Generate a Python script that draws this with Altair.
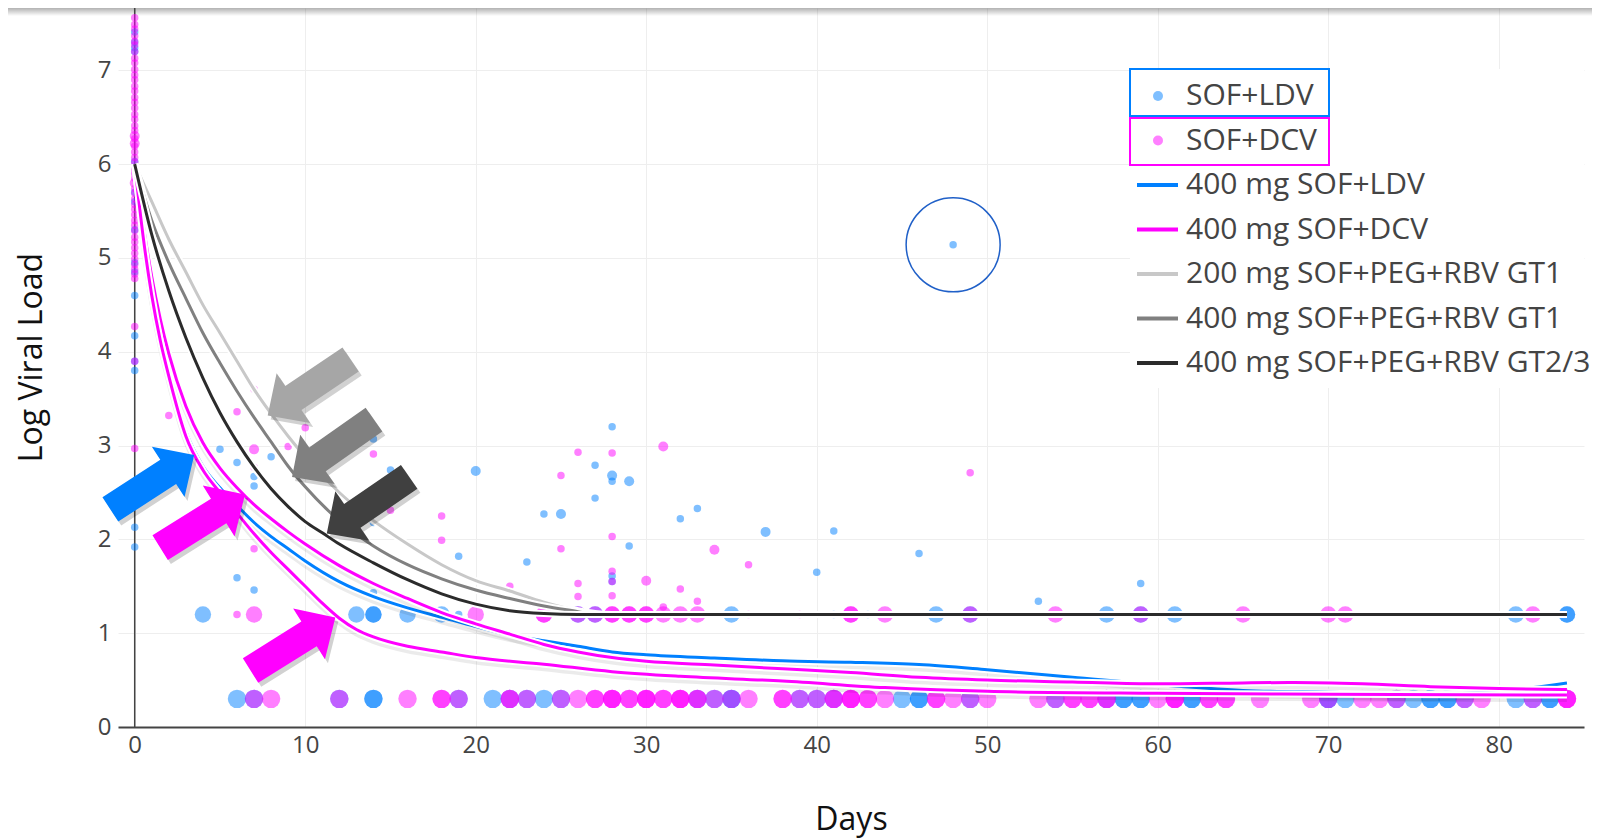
import altair as alt
import pandas as pd

LDV, DCV = "SOF+LDV", "SOF+DCV"

# ---------------- individual measurements ----------------
ldv_day0_vals = [7.41, 7.3, 7.24, 7.2, 6.03, 5.7, 5.6, 5.3, 4.95, 4.85, 4.6, 4.17, 3.9, 3.8, 2.13, 1.92]
dcv_day0_vals = [7.56, 7.49, 7.44, 7.37, 7.31, 7.27, 7.2, 7.13, 7.08, 7.01, 6.95, 6.9, 6.83, 6.78, 6.71,
                 6.66, 6.6, 6.53, 6.48, 6.41, 6.36, 6.27, 6.19, 6.13, 6.07, 6.02, 5.95, 5.9, 5.85, 5.74,
                 5.69, 5.63, 5.57, 5.52, 5.46, 5.4, 5.35, 5.29, 5.22, 5.17, 5.11, 5.05, 4.99, 4.93, 4.88,
                 4.83, 4.78, 4.27, 3.9, 2.97]

ldv_small_days = [5, 6, 7, 7, 8, 6, 7, 14, 15, 14, 14, 19, 23, 24, 27, 27, 28, 28, 29, 28, 28, 32, 33,
                  40, 41, 46, 48, 53, 59]
ldv_small_vals = [2.96, 2.82, 2.67, 2.57, 2.88, 1.59, 1.46, 3.07, 2.74, 2.18, 1.43, 1.82, 1.76, 2.27,
                  2.79, 2.44, 3.2, 2.62, 1.93, 1.61, 1.55, 2.22, 2.33, 1.65, 2.09, 1.85, 5.14, 1.34, 1.53]
ldv_medium_days = [20, 25, 28, 29, 37]
ldv_medium_vals = [2.73, 2.27, 2.68, 2.62, 2.08]

dcv_small_days = [2, 6, 7, 10, 9, 7, 14, 15, 7, 18, 18, 22, 25, 25, 26, 26, 26, 28, 28, 28, 28, 28,
                  31, 32, 33, 36, 49]
dcv_small_vals = [3.32, 3.36, 3.6, 3.19, 2.99, 2.77, 2.91, 2.31, 1.9, 2.25, 1.99, 1.5, 2.68, 1.9, 2.93,
                  1.53, 1.39, 2.92, 2.03, 1.66, 1.55, 1.4, 1.28, 1.47, 1.34, 1.73, 2.71]
dcv_medium_days = [0, 0, 0, 7, 30, 31, 34]
dcv_medium_vals = [6.3, 6.22, 5.8, 2.96, 1.56, 2.99, 1.89]

# censored measurements: below quantification limit / target not detected
lloq_value = 1.2
tnd_value = 0.3
ldv_lloq_days = [4, 13, 14, 14, 16, 18, 26, 27, 35, 47, 49, 57, 59, 61, 81, 84, 84]
ldv_lloq_small_days = [19, 41, 43]
dcv_lloq_days = [7, 20, 24, 24, 26, 27, 28, 28, 29, 29, 30, 30, 31, 32, 33, 42, 42, 44, 49, 54, 59,
                 65, 70, 71, 82]
dcv_lloq_small_days = [6, 36, 39]
ldv_tnd_days = [6, 7, 12, 14, 14, 19, 21, 22, 23, 24, 25, 33, 34, 35, 35, 39, 40, 41, 45, 46, 46, 49,
                54, 57, 58, 58, 59, 59, 62, 62, 70, 70, 71, 74, 75, 76, 76, 77, 77, 78, 81, 82, 83, 83]
dcv_tnd_days = [7, 8, 12, 16, 18, 18, 19, 22, 22, 23, 25, 26, 27, 27, 28, 28, 28, 29, 29, 30, 30, 30,
                31, 31, 32, 32, 32, 33, 33, 34, 35, 36, 38, 38, 39, 40, 41, 41, 42, 42, 42, 43, 43, 44,
                47, 47, 48, 49, 50, 53, 54, 55, 55, 56, 56, 57, 57, 60, 61, 61, 61, 63, 63, 64, 64, 66,
                69, 70, 72, 73, 74, 78, 79, 82, 84, 84, 84]

# ---------------- model curves ----------------
ldv_fit_days = [0, 0.5, 1, 1.5, 2, 3, 4, 5, 6, 7, 8, 9, 10, 12, 14, 16, 18, 20, 22, 24, 26, 28, 30,
                34, 38, 42, 46, 50, 55, 60, 65, 70, 76, 80, 84]
ldv_fit_vals = [6.0, 5.25, 4.62, 4.15, 3.78, 3.15, 2.78, 2.55, 2.36, 2.18, 2.03, 1.9, 1.77, 1.55, 1.39,
                1.27, 1.17, 1.07, 0.98, 0.92, 0.86, 0.8, 0.77, 0.735, 0.705, 0.69, 0.665, 0.61, 0.53,
                0.45, 0.39, 0.37, 0.35, 0.38, 0.47]
dcv_hi_days = [0, 0.5, 1, 1.5, 2, 3, 4, 5, 6, 7, 8, 9, 10, 12, 14, 16, 18, 20, 22, 24, 26, 28, 30,
               34, 38, 42, 46, 50, 55, 60, 65, 68, 72, 76, 80, 84]
dcv_hi_vals = [6.0, 5.35, 4.8, 4.35, 3.98, 3.42, 3.03, 2.76, 2.55, 2.37, 2.22, 2.08, 1.95, 1.72, 1.53,
               1.37, 1.22, 1.1, 0.99, 0.88, 0.8, 0.74, 0.7, 0.66, 0.62, 0.58, 0.53, 0.5, 0.48, 0.46,
               0.47, 0.475, 0.46, 0.43, 0.41, 0.4]
dcv_lo_days = [0, 0.5, 1, 1.5, 2, 3, 4, 5, 6, 7, 8, 9, 10, 11, 12, 13, 14, 16, 18, 20, 24, 28, 32,
               38, 44, 50, 60, 70, 84]
dcv_lo_vals = [6.0, 5.22, 4.6, 4.12, 3.74, 3.1, 2.74, 2.5, 2.28, 2.06, 1.86, 1.68, 1.5, 1.32, 1.16,
               1.04, 0.96, 0.86, 0.8, 0.74, 0.67, 0.59, 0.54, 0.49, 0.42, 0.38, 0.36, 0.35, 0.34]
peg200_gt1_days = [0, 1, 2, 3, 4, 5, 6, 7, 8, 9, 10, 12, 14, 16, 18, 20, 22, 24, 26, 27, 28, 84]
peg200_gt1_vals = [6.0, 5.6, 5.2, 4.85, 4.5, 4.2, 3.9, 3.6, 3.34, 3.1, 2.88, 2.5, 2.2, 1.95, 1.73,
                   1.56, 1.45, 1.33, 1.24, 1.21, 1.2, 1.2]
peg400_gt1_days = [0, 1, 2, 3, 4, 5, 6, 7, 8, 9, 10, 12, 14, 16, 18, 20, 22, 24, 26, 27, 84]
peg400_gt1_vals = [6.0, 5.4, 4.95, 4.57, 4.2, 3.88, 3.58, 3.3, 3.04, 2.78, 2.56, 2.2, 1.93, 1.73,
                   1.58, 1.46, 1.37, 1.29, 1.23, 1.2, 1.2]
peg400_gt23_days = [0, 1, 2, 3, 4, 5, 6, 7, 8, 9, 10, 11, 12, 14, 16, 18, 20, 22, 24, 26, 84]
peg400_gt23_vals = [6.0, 5.25, 4.65, 4.15, 3.72, 3.35, 3.04, 2.77, 2.54, 2.35, 2.19, 2.07, 1.95, 1.75,
                    1.57, 1.42, 1.31, 1.24, 1.21, 1.2, 1.2]

# ---------------- annotations ----------------
arrow_days = [1.03, 3.98, 9.28, 10.23, 11.63, 13.68]
arrow_vals = [2.61, 2.195, 0.885, 3.62, 2.97, 2.365]
arrow_angles = [327, 328, 328, 146, 145, 145.5]
arrow_colors = ["#0080ff", "#ff00ff", "#ff00ff", "#a6a6a6", "#808080", "#404040"]
outlier_day, outlier_val = 48, 5.14

legend_labels = ["SOF+LDV", "SOF+DCV", "400 mg SOF+LDV", "400 mg SOF+DCV",
                 "200 mg SOF+PEG+RBV GT1", "400 mg SOF+PEG+RBV GT1", "400 mg SOF+PEG+RBV GT2/3"]
legend_kinds = ["dot", "dot", "line", "line", "line", "line", "line"]
legend_colors = ["#0080ff", "#ff00ff", "#0080ff", "#ff00ff", "#c8c8c8", "#808080", "#2b2b2b"]

# marker classes -> symbol size (vega symbol size; diameter = sqrt(size))
marker_area = {"s": 56, "m": 100, "l": 270, "xl": 340}

# ---------------- build tables ----------------
rows = []
def add(days, vals, reg, marker):
    for d, v in zip(days, vals):
        rows.append({"day": d, "load": v, "regimen": reg, "area": marker_area[marker]})

add([0] * len(ldv_day0_vals), ldv_day0_vals, LDV, "s")
add([0] * len(dcv_day0_vals), dcv_day0_vals, DCV, "s")
add(ldv_small_days, ldv_small_vals, LDV, "s")
add(dcv_small_days, dcv_small_vals, DCV, "s")
add(ldv_medium_days, ldv_medium_vals, LDV, "m")
add(dcv_medium_days, dcv_medium_vals, DCV, "m")
add(ldv_lloq_days, [lloq_value] * len(ldv_lloq_days), LDV, "l")
add(dcv_lloq_days, [lloq_value] * len(dcv_lloq_days), DCV, "l")
add(ldv_lloq_small_days, [lloq_value] * len(ldv_lloq_small_days), LDV, "s")
add(dcv_lloq_small_days, [lloq_value] * len(dcv_lloq_small_days), DCV, "s")
add(ldv_tnd_days, [tnd_value] * len(ldv_tnd_days), LDV, "xl")
add(dcv_tnd_days, [tnd_value] * len(dcv_tnd_days), DCV, "xl")
points = pd.DataFrame(rows)

curves = [
    ("ldv", ldv_fit_days, ldv_fit_vals, "#0080ff", True),
    ("dcv_hi", dcv_hi_days, dcv_hi_vals, "#ff00ff", True),
    ("dcv_lo", dcv_lo_days, dcv_lo_vals, "#ff00ff", True),
    ("peg200gt1", peg200_gt1_days, peg200_gt1_vals, "#c8c8c8", False),
    ("peg400gt1", peg400_gt1_days, peg400_gt1_vals, "#808080", False),
    ("peg400gt23", peg400_gt23_days, peg400_gt23_vals, "#2b2b2b", False),
]

arrows = pd.DataFrame({"day": arrow_days, "load": arrow_vals, "angle": arrow_angles,
                       "color": arrow_colors})

W, H = 1466, 719
FONT = "Open Sans"

xaxis = alt.Axis(values=[0, 10, 20, 30, 40, 50, 60, 70, 80], grid=True, ticks=False, domain=True,
                 domainColor="#444444", domainWidth=2, labelFlush=False, labelPadding=6,
                 labelFontSize=24, labelColor="#444444", labelFont=FONT,
                 titleFont=FONT, titleFontSize=32, titleFontWeight="normal", titleColor="#111111",
                 titleX=W / 2, titleY=92, titleAlign="center", titleBaseline="middle")
yaxis = alt.Axis(values=[0, 1, 2, 3, 4, 5, 6, 7], grid=True, ticks=False, domain=False,
                 labelPadding=7, labelFontSize=24, labelColor="#444444", labelFont=FONT,
                 titleFont=FONT, titleFontSize=32, titleFontWeight="normal", titleColor="#111111",
                 titleX=-87, titleY=349, titleAngle=-90, titleAlign="center",
                 titleBaseline="middle")
xscale = alt.Scale(domain=[-0.98, 85.0], nice=False, zero=False)
yscale = alt.Scale(domain=[0, 7.665], nice=False, zero=False)
X = alt.X("day:Q", scale=xscale, axis=xaxis, title="Days")
Y = alt.Y("load:Q", scale=yscale, axis=yaxis, title="Log Viral Load")

one = pd.DataFrame({"k": [0]})
layers = []

# header shadow
grad = alt.LinearGradient(gradient="linear", x1=0, x2=0, y1=0, y2=1,
                          stops=[alt.GradientStop(color="rgba(0,0,0,0.30)", offset=0),
                                 alt.GradientStop(color="rgba(0,0,0,0)", offset=1)])
layers.append(alt.Chart(one).mark_rect(color=grad).encode(
    x=alt.value(-110), x2=alt.value(W + 8), y=alt.value(0), y2=alt.value(8)))

# zero line
layers.append(alt.Chart(pd.DataFrame({"day": [0]})).mark_rule(color="#444444", strokeWidth=1.5)
              .encode(x=X))

# points
layers.append(alt.Chart(points).mark_circle(opacity=0.5).encode(
    x=X, y=Y,
    color=alt.Color("regimen:N", scale=alt.Scale(domain=[LDV, DCV], range=["#0080ff", "#ff00ff"]),
                    legend=None),
    size=alt.Size("area:Q", scale=None)))

# curves
for name, d, v, col, shadow in curves:
    df = pd.DataFrame({"day": d, "load": v})
    if shadow:
        layers.append(alt.Chart(df).mark_line(interpolate="monotone", color="black", opacity=0.08,
                                              strokeWidth=6, yOffset=4).encode(x=X, y=Y))
    layers.append(alt.Chart(df).mark_line(interpolate="monotone", color="white",
                                          strokeWidth=7).encode(x=X, y=Y))
    layers.append(alt.Chart(df).mark_line(interpolate="monotone", color=col,
                                          strokeWidth=3).encode(x=X, y=Y))

# outlier circle
layers.append(alt.Chart(pd.DataFrame({"day": [outlier_day], "load": [outlier_val]}))
              .mark_point(shape="circle", filled=False, size=8836, color="#2060c8",
                          strokeWidth=1.5, opacity=1).encode(x=X, y=Y))

# arrows
ARROW = "M -1 -0.29 L 0.38 -0.29 L 0.38 -0.6 L 1 0 L 0.38 0.6 L 0.38 0.29 L -1 0.29 Z"
layers.append(alt.Chart(arrows).mark_point(shape=ARROW, filled=True, size=10000, strokeWidth=0,
                                           color="black", opacity=0.18, xOffset=3, yOffset=4)
              .encode(x=X, y=Y, angle=alt.Angle("angle:Q", scale=None)))
layers.append(alt.Chart(arrows).mark_point(shape=ARROW, filled=True, size=10000, strokeWidth=0,
                                           opacity=1)
              .encode(x=X, y=Y, angle=alt.Angle("angle:Q", scale=None),
                      color=alt.Color("color:N", scale=None)))

# legend
LX0, LY0, LSTEP = 1012, 88, 44.5
layers.append(alt.Chart(one).mark_rect(color="white").encode(
    x=alt.value(LX0), x2=alt.value(W), y=alt.value(61), y2=alt.value(380)))
for i, col in enumerate(["#0080ff", "#ff00ff"]):
    top = LY0 - 27 + i * 49
    layers.append(alt.Chart(one).mark_rect(color="black", opacity=0.12, yOffset=3).encode(
        x=alt.value(LX0 + 1), x2=alt.value(LX0 + 200), y=alt.value(top + 2), y2=alt.value(top + 48)))
    layers.append(alt.Chart(one).mark_rect(fill="white", stroke=col, strokeWidth=2).encode(
        x=alt.value(LX0), x2=alt.value(LX0 + 199), y=alt.value(top), y2=alt.value(top + 47)))

leg = pd.DataFrame({"label": legend_labels, "kind": legend_kinds, "color": legend_colors})
leg["ly"] = [LY0 + LSTEP * i for i in range(len(leg))]
layers.append(alt.Chart(leg[leg.kind == "dot"]).mark_circle(size=100, opacity=0.5).encode(
    x=alt.value(LX0 + 28), y=alt.Y("ly:Q", scale=None), color=alt.Color("color:N", scale=None)))
layers.append(alt.Chart(leg[leg.kind == "line"]).mark_rule(strokeWidth=4).encode(
    x=alt.value(LX0 + 7), x2=alt.value(LX0 + 48), y=alt.Y("ly:Q", scale=None),
    color=alt.Color("color:N", scale=None)))
layers.append(alt.Chart(leg).mark_text(align="left", baseline="middle", font=FONT, fontSize=30,
                                       color="#444444").encode(
    x=alt.value(LX0 + 56), y=alt.Y("ly:Q", scale=None), text="label:N"))

chart = alt.layer(*layers).properties(
    width=W, height=H,
    autosize=alt.AutoSizeParams(type="none"),
    padding={"left": 110, "top": 0, "right": 8, "bottom": 111},
).configure(font=FONT).configure_view(stroke=None).configure_axis(gridColor="#eeeeee", gridWidth=1)

chart.save("out.html", embed_options={"renderer": "svg", "actions": False})
